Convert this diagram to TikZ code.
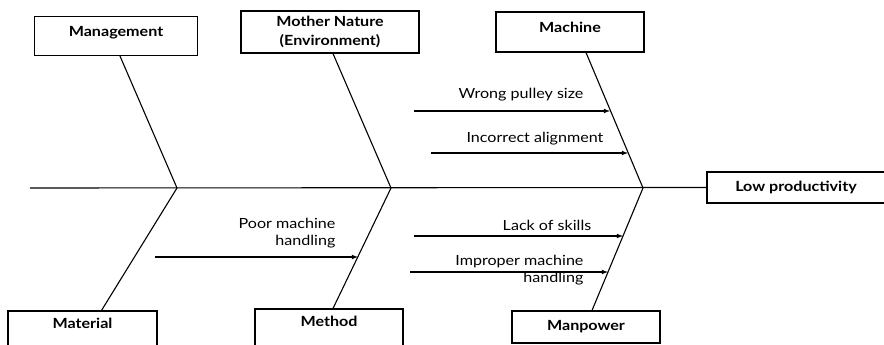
\documentclass[tikz,border=0pt]{standalone}
\usepackage{fontspec}
\setmainfont{Lato}[FakeStretch=1.15]
\usepackage{tikz}
\usetikzlibrary{calc}

\begin{document}
\begin{tikzpicture}[x=1pt, y=-1pt, line width=1.1pt,
    catbox/.style={draw, line width=1.1pt, font=\fontsize{14}{19}\selectfont\bfseries, align=center},
    cause/.style={->, >=latex, line width=1.1pt},
    causetext/.style={font=\fontsize{14}{17}\selectfont, align=right, inner sep=0}]
  \useasboundingbox (0,0) rectangle (884,345);

  \node[catbox, minimum width=163pt, minimum height=39pt, text depth=10pt]
    (mgmt) at (116, 36) {Management};

  \node[catbox, minimum width=178pt, minimum height=42pt]
    (nature) at (330, 32) {Mother Nature\\(Environment)};

  \node[catbox, minimum width=148pt, minimum height=40pt, text depth=10pt]
    (machine) at (570, 32) {Machine};

  \node[catbox, minimum width=149pt, minimum height=42pt, text depth=18pt]
    (material) at (82.5, 332) {Material};

  \node[catbox, minimum width=148pt, minimum height=42pt, text depth=18pt]
    (method) at (329, 330) {Method};

  \node[catbox, minimum width=148pt, minimum height=32pt, text depth=4pt]
    (manpower) at (586, 327) {Manpower};

  \node[catbox, minimum width=178pt, minimum height=31pt]
    (effect) at (796, 187.5) {Low productivity};

  \coordinate (tail) at (30, 188);
  \coordinate (jA) at (177, 188);
  \coordinate (jB) at (391, 188);
  \coordinate (jC) at (643, 188);

  % spine and bones
  \draw (tail) -- (effect.west);
  \draw ([xshift=4pt]mgmt.south) -- (jA) -- ([xshift=19pt]material.north);
  \draw ([xshift=3pt]nature.south) -- (jB) -- ([xshift=4pt]method.north);
  \draw ([xshift=16pt]machine.south) -- (jC) -- ([xshift=6pt]manpower.north);

  % sub causes
  \coordinate (wpS) at (414, 111);   \coordinate (wpE) at (610, 111);
  \coordinate (iaS) at (431, 153);   \coordinate (iaE) at (628, 153);
  \coordinate (pmS) at (155, 257);   \coordinate (pmE) at (358, 257);
  \coordinate (lsS) at (414, 236);   \coordinate (lsE) at (623, 236);
  \coordinate (imS) at (410, 272);   \coordinate (imE) at (608, 272);

  \draw[cause] (wpS) -- (wpE);
  \draw[cause] (iaS) -- (iaE);
  \draw[cause] (pmS) -- (pmE);
  \draw[cause] (lsS) -- (lsE);
  \draw[cause] (imS) -- (imE);

  \node[causetext] (wp) at (521, 95) {Wrong pulley size};
  \node[causetext] (ia) at (535, 139) {Incorrect alignment};
  \node[causetext, anchor=east] (pm) at (336, 233) {Poor machine\\handling};
  \node[causetext] (ls) at (547, 225) {Lack of skills};
  \node[causetext, anchor=east] (im) at (584, 270) {Improper machine\\handling};
\end{tikzpicture}
\end{document}
